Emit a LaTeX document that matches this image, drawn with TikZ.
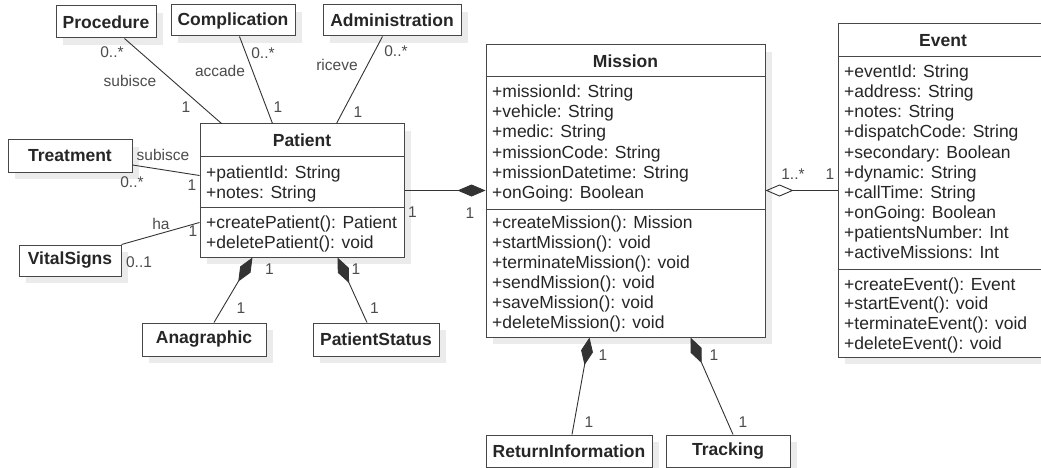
\documentclass[tikz,border=0pt]{standalone}
\usepackage{fontspec}
\setmainfont{Liberation Sans}
\usetikzlibrary{arrows.meta,shadows,calc}

\begin{document}
\begin{tikzpicture}[x=1pt,y=-1pt,
  classbox/.style={draw=black!72, line width=1pt, fill=white, inner sep=0pt,
    drop shadow={shadow xshift=7pt, shadow yshift=-7pt, fill=black!8, opacity=1},
    font=\bfseries\fontsize{17.5}{20}\selectfont, text=black!85},
  classtitle/.style={inner sep=0pt, font=\bfseries\fontsize{17.5}{20}\selectfont, text=black!85},
  member/.style={anchor=base west, inner sep=0pt, font=\fontsize{17.5}{20}\selectfont, text=black!85},
  divider/.style={draw=black!72, line width=1pt},
  assoc/.style={draw=black!80, line width=0.9pt},
  comp/.style={assoc, -{Diamond[length=28pt, width=12pt]}},
  aggr/.style={assoc, -{Diamond[open, length=28pt, width=12pt]}},
  lbl/.style={inner sep=0pt, font=\fontsize{15.5}{18}\selectfont, text=black!70}
]
\useasboundingbox (0,0) rectangle (1041,468);
\clip (0,0) rectangle (1041,468);
\fill[white] (0,0) rectangle (1041,468);

% ---------- simple classes ----------
\node[classbox, minimum width=100, minimum height=32] (procedure) at (106,22) {Procedure};
\node[classbox, minimum width=124, minimum height=31] (complication) at (233,20.5) {Complication};
\node[classbox, minimum width=138, minimum height=31] (admin) at (392,20.5) {Administration};
\node[classbox, minimum width=124, minimum height=32] (treatment) at (70,156) {Treatment};
\node[classbox, minimum width=102, minimum height=31] (vital) at (70,260.5) {VitalSigns};
\node[classbox, minimum width=124, minimum height=33] (anag) at (204,339.5) {Anagraphic};
\node[classbox, minimum width=126, minimum height=33] (pstatus) at (376,339.5) {PatientStatus};
\node[classbox, minimum width=166, minimum height=32] (retinfo) at (569,451) {ReturnInformation};
\node[classbox, minimum width=124, minimum height=32] (tracking) at (728,451) {Tracking};

% ---------- Patient ----------
\node[classbox, minimum width=204, minimum height=133] (patient) at (302,190.5) {};
\node[classtitle] (patient-t) at (302,140) {Patient};
\draw[divider] (patient.west |- 0,156) -- (patient.east |- 0,156);
\draw[divider] (patient.west |- 0,207) -- (patient.east |- 0,207);
\foreach \t [count=\i from 0] in {+patientId: String, +notes: String}
  \node[member] (patient-a\i) at (206,178+20*\i) {\t};
\foreach \t [count=\i from 0] in {+createPatient(): Patient, +deletePatient(): void}
  \node[member] (patient-m\i) at (206,228+20*\i) {\t};

% ---------- Mission ----------
\node[classbox, minimum width=279, minimum height=292] (mission) at (625.5,191) {};
\node[classtitle] (mission-t) at (625.5,61) {Mission};
\draw[divider] (mission.west |- 0,77) -- (mission.east |- 0,77);
\draw[divider] (mission.west |- 0,209) -- (mission.east |- 0,209);
\foreach \t [count=\i from 0] in {+missionId: String, +vehicle: String, +medic: String,
    +missionCode: String, +missionDatetime: String, +onGoing: Boolean}
  \node[member] (mission-a\i) at (492,98+20*\i) {\t};
\foreach \t [count=\i from 0] in {+createMission(): Mission, +startMission(): void,
    +terminateMission(): void, +sendMission(): void, +saveMission(): void, +deleteMission(): void}
  \node[member] (mission-m\i) at (492,228+20*\i) {\t};

% ---------- Event ----------
\node[classbox, minimum width=210, minimum height=333] (event) at (943,190.5) {};
\node[classtitle] (event-t) at (943,40.5) {Event};
\draw[divider] (event.west |- 0,57) -- (event.east |- 0,57);
\draw[divider] (event.west |- 0,269) -- (event.east |- 0,269);
\foreach \t [count=\i from 0] in {+eventId: String, +address: String, +notes: String,
    +dispatchCode: String, +secondary: Boolean, +dynamic: String, +callTime: String,
    +onGoing: Boolean, +patientsNumber: Int, +activeMissions: Int}
  \node[member] (event-a\i) at (844,78+20*\i) {\t};
\foreach \t [count=\i from 0] in {+createEvent(): Event, +startEvent(): void,
    +terminateEvent(): void, +deleteEvent(): void}
  \node[member] (event-m\i) at (844,290+19.7*\i) {\t};

% ---------- associations ----------
\draw[assoc] ([xshift=69pt]procedure.south west) -- ([xshift=22pt]patient.north west);
\draw[assoc] ([xshift=69pt]complication.south west) -- ([xshift=73pt]patient.north west);
\draw[assoc] ([xshift=60pt]admin.south west) -- ([xshift=137pt]patient.north west);
\draw[assoc] ([yshift=-9pt]treatment.east) -- ([yshift=-52pt]patient.north west);
\draw[assoc] (vital.north east) -- ([yshift=-99pt]patient.north west);

% ---------- compositions / aggregation ----------
\draw[comp] (patient.east) -- (patient.east -| mission.west);
\draw[aggr] (event.west) -- (event.west -| mission.east);
\draw[comp] ([xshift=10pt]anag.north) -- ([xshift=53pt]patient.south west);
\draw[comp] ([xshift=-9pt]pstatus.north) -- ([xshift=138pt]patient.south west);
\draw[comp] ([xshift=3pt]retinfo.north) -- ([xshift=104pt]mission.south west);
\draw[comp] ([xshift=5pt]tracking.north) -- ([xshift=205pt]mission.south west);

% ---------- role names and multiplicities ----------
\node[lbl] (l-proc-m) at (112,52) {0..*};
\node[lbl] (l-proc-r) at (130,81) {subisce};
\node[lbl] (l-proc-p) at (186,107.5) {1};
\node[lbl] (l-comp-m) at (263,53) {0..*};
\node[lbl] (l-comp-r) at (220,71) {accade};
\node[lbl] (l-comp-p) at (278,107.5) {1};
\node[lbl] (l-adm-m) at (396,51) {0..*};
\node[lbl] (l-adm-r) at (337,65) {riceve};
\node[lbl] (l-adm-p) at (358,112) {1};
\node[lbl] (l-tr-r) at (163,155) {subisce};
\node[lbl] (l-tr-m) at (132,182) {0..*};
\node[lbl] (l-tr-p) at (192,185) {1};
\node[lbl] (l-vs-r) at (161,224) {ha};
\node[lbl] (l-vs-p) at (193,231) {1};
\node[lbl] (l-vs-m) at (139,262) {0..1};
\node[lbl] (l-pm-p) at (412.5,212) {1};
\node[lbl] (l-pm-m) at (470,213) {1};
\node[lbl] (l-an-p) at (269.5,269) {1};
\node[lbl] (l-an-a) at (241,308) {1};
\node[lbl] (l-ps-p) at (356,269) {1};
\node[lbl] (l-ps-s) at (374.5,308) {1};
\node[lbl] (l-ri-m) at (603,355) {1};
\node[lbl] (l-ri-r) at (589,422) {1};
\node[lbl] (l-tk-m) at (714,355) {1};
\node[lbl] (l-tk-t) at (743,422) {1};
\node[lbl] (l-me-m) at (793,174) {1..*};
\node[lbl] (l-me-e) at (830,174) {1};
\end{tikzpicture}
\end{document}
